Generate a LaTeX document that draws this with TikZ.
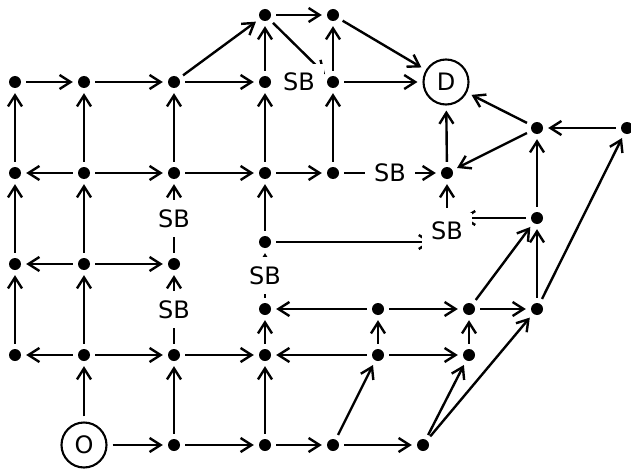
\documentclass[tikz,border=0pt]{standalone}
\usepackage{fontspec}
\setmainfont{DejaVu Sans}
\usetikzlibrary{arrows.meta,calc}
\begin{document}
\begin{tikzpicture}[x=1pt,y=-1pt,
  every node/.style={font=\fontsize{24}{28}\selectfont},
  dot/.style={circle,fill=black,inner sep=0pt,minimum size=12pt},
  term/.style={circle,draw,line width=2.1pt,minimum size=45pt,inner sep=0pt},
  conn/.style={line width=2.4pt,-{Straight Barb[length=11pt,width=14pt]},
    shorten >=5pt,shorten <=5pt},
  sb/.style={fill=white,inner xsep=9pt,inner ysep=9pt},
]
\useasboundingbox (0,0) rectangle (631,468);

% terminals
\node[term] (O) at (84,445) {O};
\node[term] (D) at (446,82) {D};

% top row
\node[dot] (t4) at (265,15) {};
\node[dot] (t5) at (333,15) {};
% row a
\node[dot] (a1) at (15,82) {};
\node[dot] (a2) at (84,82) {};
\node[dot] (a3) at (174,82) {};
\node[dot] (a4) at (265,82) {};
\node[dot] (a5) at (333,82) {};
% right cluster
\node[dot] (r9) at (537,128) {};
\node[dot] (r10) at (627,128) {};
\node[dot] (e9) at (537,218) {};
% row b
\node[dot] (b1) at (15,173) {};
\node[dot] (b2) at (84,173) {};
\node[dot] (b3) at (174,173) {};
\node[dot] (b4) at (265,173) {};
\node[dot] (b5) at (333,173) {};
\node[dot] (b7) at (447,173) {};
% middle
\node[dot] (m4) at (265,242) {};
\node[dot] (c1) at (15,264) {};
\node[dot] (c2) at (84,264) {};
\node[dot] (c3) at (174,264) {};
% row p
\node[dot] (p4) at (265,309) {};
\node[dot] (p6) at (378,309) {};
\node[dot] (p8) at (469,309) {};
\node[dot] (p9) at (537,309) {};
% row q
\node[dot] (q1) at (15,355) {};
\node[dot] (q2) at (84,355) {};
\node[dot] (q3) at (174,355) {};
\node[dot] (q4) at (265,355) {};
\node[dot] (q6) at (378,355) {};
\node[dot] (q8) at (469,355) {};
% bottom row
\node[dot] (s3) at (174,445) {};
\node[dot] (s4) at (265,445) {};
\node[dot] (s5) at (333,445) {};
\node[dot] (s7) at (423,445) {};

% plain connectors
\foreach \u/\v in {a1/a2,a2/a3,a3/a4,a3/t4,t4/t5,t5/D,a4/t4,a5/t5,t4/a5,a5/D,
  b1/a1,b2/a2,b3/a3,b4/a4,b5/a5,b7/D,
  b2/b1,b2/b3,b3/b4,b4/b5,
  r9/D,r9/b7,r10/r9,e9/r9,m4/b4,
  c1/b1,c2/b2,c2/c1,c2/c3,
  q1/c1,q2/c2,q2/q1,q2/q3,q3/q4,
  q4/p4,p6/p4,p6/p8,p8/p9,q6/q4,q6/q8,q6/p6,q8/p8,
  O/q2,O/s3,s3/s4,s4/s5,s5/s7,s3/q3,s4/q4,
  s5/q6,s7/q8,s7/p9,p8/e9,p9/e9,p9/r10}
  \draw[conn] (\u) -- (\v);

% connectors carrying an SB box
\draw[conn] (a4) -- node[sb]{SB} (a5);
\draw[conn] (b5) -- node[sb]{SB} (b7);
\draw[conn] (c3) -- node[sb]{SB} (b3);
\draw[conn] (q3) -- node[sb]{SB} (c3);
\draw[conn] (p4) -- node[sb]{SB} (m4);

% free-standing SB box fed from both sides
\coordinate (sbB) at (447,231);
\coordinate (sbBr) at ($(sbB)+(15,0)$);
\coordinate (sbBl) at ($(sbB)+(-15,0)$);
\draw[conn,shorten >=0pt] (e9) -- (sbBr |- e9);
\draw[conn,shorten >=0pt] (m4) -- (sbBl |- m4);
\node[sb] (SB2) at (sbB) {SB};
\draw[conn] (SB2) -- (b7);
\end{tikzpicture}
\end{document}
